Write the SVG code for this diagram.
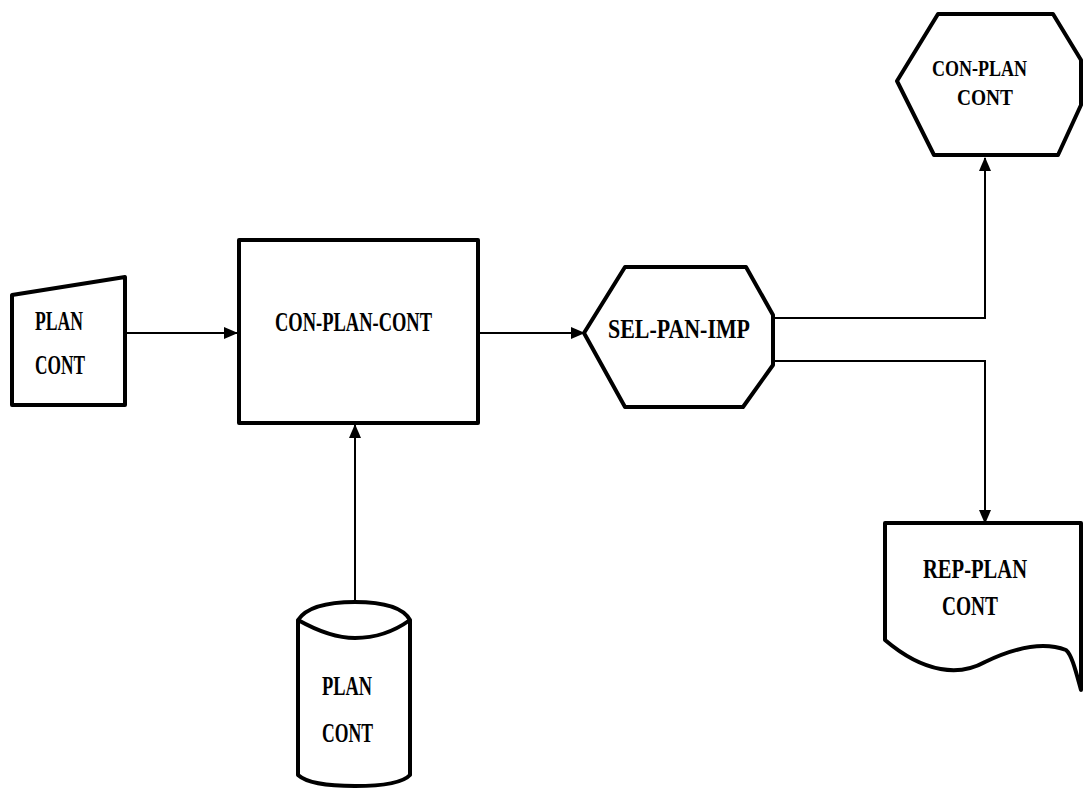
<svg xmlns="http://www.w3.org/2000/svg" width="1084" height="791" viewBox="0 0 1084 791">
<style>
.n{fill:#fff;stroke:#000;stroke-width:4;stroke-linejoin:round}
.t{font-family:"Liberation Serif",serif;font-weight:bold;font-size:27px;fill:#000}
.s{font-size:24px}
.c{fill:none;stroke:#000;stroke-width:2}
</style>
<defs>
<marker id="a" markerWidth="14" markerHeight="12" refX="13" refY="6" orient="auto" markerUnits="userSpaceOnUse">
<path d="M0,0 L14,6 L0,12 Z" fill="#000"/>
</marker>
</defs>
<rect width="1084" height="791" fill="#fff"/>
<g id="connectors">
<path class="c" d="M125,333 H237" marker-end="url(#a)"/>
<path class="c" d="M355,602 V425" marker-end="url(#a)"/>
<path class="c" d="M478,333 H584" marker-end="url(#a)"/>
<path class="c" d="M773,318 H985 V158" marker-end="url(#a)"/>
<path class="c" d="M773,361 H985 V523" marker-end="url(#a)"/>
</g>
<g id="plan-cont-input">
<path class="n" d="M12,295 L125,277 V405 H12 Z"/>
<text class="t" x="35" y="330" textLength="48" lengthAdjust="spacingAndGlyphs">PLAN</text>
<text class="t" x="35" y="374" textLength="50" lengthAdjust="spacingAndGlyphs">CONT</text>
</g>
<g id="con-plan-cont">
<rect class="n" x="239" y="240" width="239" height="183"/>
<text class="t" x="275" y="331" textLength="157" lengthAdjust="spacingAndGlyphs">CON-PLAN-CONT</text>
</g>
<g id="plan-cont-db">
<path class="n" d="M298,620 Q310,602 355,602 Q400,602 410,620 V775 Q400,786 355,786 Q310,786 298,775 Z"/>
<path class="n" d="M298,620 Q330,638 355,638 Q385,638 410,620" fill="none"/>
<text class="t" x="322" y="695" textLength="50" lengthAdjust="spacingAndGlyphs">PLAN</text>
<text class="t" x="322" y="742" textLength="51" lengthAdjust="spacingAndGlyphs">CONT</text>
</g>
<g id="sel-pan-imp">
<path class="n" d="M584,333 L625,267 H746 L773,315 V365 L743,407 H625 Z"/>
<text class="t" x="608" y="338" textLength="142" lengthAdjust="spacingAndGlyphs">SEL-PAN-IMP</text>
</g>
<g id="con-plan-cont-out">
<path class="n" d="M897,81 L938,14 H1053 L1081,60 V105 L1058,155 H934 Z"/>
<text class="t s" x="932" y="76" textLength="95" lengthAdjust="spacingAndGlyphs">CON-PLAN</text>
<text class="t s" x="957" y="105" textLength="56" lengthAdjust="spacingAndGlyphs">CONT</text>
</g>
<g id="rep-plan-cont">
<path class="n" d="M885,523 H1081 V690 C1076,672 1072,655 1066,650 C1040,640 1010,650 985,662 C960,676 925,674 885,640 Z"/>
<text class="t" x="923" y="578" textLength="104" lengthAdjust="spacingAndGlyphs">REP-PLAN</text>
<text class="t" x="942" y="615" textLength="56" lengthAdjust="spacingAndGlyphs">CONT</text>
</g>
</svg>
